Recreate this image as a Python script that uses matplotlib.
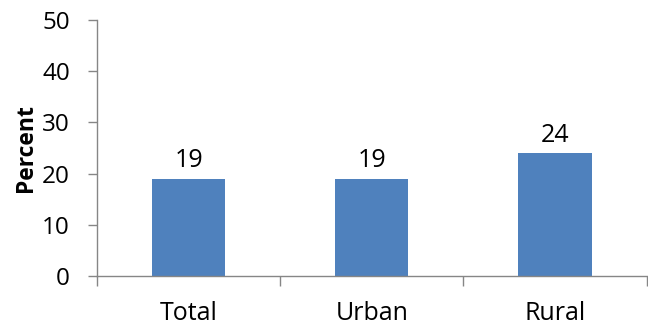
import numpy as np
import matplotlib.pyplot as plt

categories = ["Total", "Urban", "Rural"]
values = [19, 19, 24]
yticks = [0, 10, 20, 30, 40, 50]

plt.rcParams['font.family'] = ['Open Sans', 'DejaVu Sans']

fig = plt.figure(figsize=(6.48, 3.27), dpi=100)
ax = fig.add_axes([0.1497, 0.156, 0.848, 0.783])

x = np.arange(len(categories))
bars = ax.bar(x, values, width=0.4, color='#4F81BD', zorder=2)
for xi, v in zip(x, values):
    ax.annotate(str(v), (xi, v), xytext=(0, 4), textcoords='offset points',
                ha='center', va='bottom', fontsize=18, color='#000000')

ax.set_xlim(-0.5, len(categories) - 0.5)
ax.set_ylim(0, 50)
ax.set_yticks(yticks)
ax.tick_params(axis='y', labelsize=17.5, length=6.5, width=1, color='#868686', pad=13)

# category labels centred, tick marks on boundaries
ax.set_xticks(x)
ax.set_xticklabels(categories, fontsize=18)
ax.tick_params(axis='x', which='major', length=0, pad=18)
ax.set_xticks(np.arange(-0.5, len(categories)), minor=True)
ax.tick_params(axis='x', which='minor', length=7, width=1, color='#868686')

for s in ['top', 'right']:
    ax.spines[s].set_visible(False)
for s in ['left', 'bottom']:
    ax.spines[s].set_color('#868686')
    ax.spines[s].set_linewidth(1)

ax.set_ylabel("Percent", fontsize=16.5, fontweight='bold')
ax.yaxis.set_label_coords(-0.108, 0.5)

fig.savefig("out.png", dpi=100)
